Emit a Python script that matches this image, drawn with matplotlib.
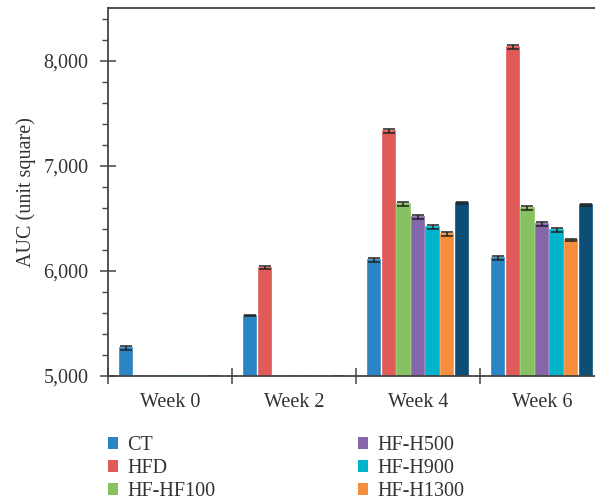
import matplotlib
matplotlib.use("Agg")
import matplotlib.pyplot as plt
import numpy as np
from matplotlib.patches import Patch
from matplotlib.ticker import FuncFormatter, MultipleLocator

# data
weeks = ["Week 0", "Week 2", "Week 4", "Week 6"]
groups = ["CT", "HFD", "HF-HF100", "HF-H500", "HF-H900", "HF-H1300", "HF-Met"]
colors = ["#2b84c4", "#e05a57", "#86c262", "#8567a9", "#00b5cb", "#f58f3e", "#0d4e77"]

ct = [5268, 5575, 6105, 6124]
hfd = [5000, 6030, 7333, 8133]
hf100 = [5000, 5000, 6638, 6600]
h500 = [5000, 5000, 6514, 6448]
h900 = [5000, 5000, 6419, 6390]
h1300 = [5000, 5000, 6352, 6295]
met = [5000, 5000, 6648, 6629]

ct_err = [18, 8, 20, 18]
hfd_err = [0, 15, 20, 20]
hf100_err = [0, 0, 22, 15]
h500_err = [0, 0, 15, 15]
h900_err = [0, 0, 15, 15]
h1300_err = [0, 0, 17, 13]
met_err = [0, 0, 14, 8]

series = [ct, hfd, hf100, h500, h900, h1300, met]
errors = [ct_err, hfd_err, hf100_err, h500_err, h900_err, h1300_err, met_err]

plt.rcParams["font.family"] = ["Liberation Serif", "DejaVu Serif"]
text_color = "#333333"

fig = plt.figure(figsize=(5.95, 5.0), dpi=100)
ax = fig.add_axes([108 / 595, 124 / 500, 496 / 595, 368 / 500])

x = np.arange(len(weeks))
step = 0.117
width = 0.097
for i, (vals, errs) in enumerate(zip(series, errors)):
    pos = x + (i - 3) * step
    vals = np.array(vals, dtype=float)
    ax.bar(pos, vals - 5000, width, bottom=5000, color=colors[i],
           edgecolor=colors[i], linewidth=1.2, zorder=2)
    errs = np.array(errs, dtype=float)
    mask = errs > 0
    ax.errorbar(pos[mask], vals[mask], yerr=errs[mask], fmt="none",
                ecolor="#222222", elinewidth=1.1, capsize=4.5, capthick=1.1, zorder=3)

ax.set_xlim(-0.5, 3.5)
ax.set_ylim(5000, 8505)

ax.yaxis.set_major_locator(MultipleLocator(1000))
ax.yaxis.set_minor_locator(MultipleLocator(200))
ax.yaxis.set_major_formatter(FuncFormatter(lambda v, p: f"{int(v):,}"))
ax.tick_params(axis="y", which="major", direction="inout", length=12, width=1.1,
               labelsize=14.5, labelcolor=text_color, color="#444444", pad=8)
ax.tick_params(axis="y", which="minor", direction="out", length=4, width=1.0, color="#444444")

ax.set_xticks(np.arange(-0.5, 4.0, 1.0))
ax.set_xticklabels([])
ax.set_xticks(x, minor=True)
ax.set_xticklabels(weeks, minor=True)
ax.tick_params(axis="x", which="major", direction="inout", length=12, width=1.1, color="#444444")
ax.tick_params(axis="x", which="minor", length=0, labelsize=14.5, labelcolor=text_color, pad=12)

for s in ax.spines.values():
    s.set_color("#444444")
    s.set_linewidth(1.3)

ax.set_ylabel("AUC (unit square)", fontsize=14.5, color=text_color)
ax.yaxis.set_label_coords(-0.146, 0.5)

# the reference crops the legend after three rows, so only six entries show
order = [0, 1, 2, 3, 4, 5]
handles = [Patch(facecolor=colors[i], edgecolor="none") for i in order]
labels = [groups[i] for i in order]
fig.legend(handles, labels, loc="upper left", bbox_to_anchor=(108 / 595, 1 - 436 / 500),
           ncol=2, frameon=False, fontsize=14.5, labelcolor=text_color,
           handlelength=0.5, handleheight=0.5, handletextpad=0.45,
           labelspacing=0.2, columnspacing=7.1, borderpad=0, borderaxespad=0)

fig.savefig("out.png", dpi=100)
